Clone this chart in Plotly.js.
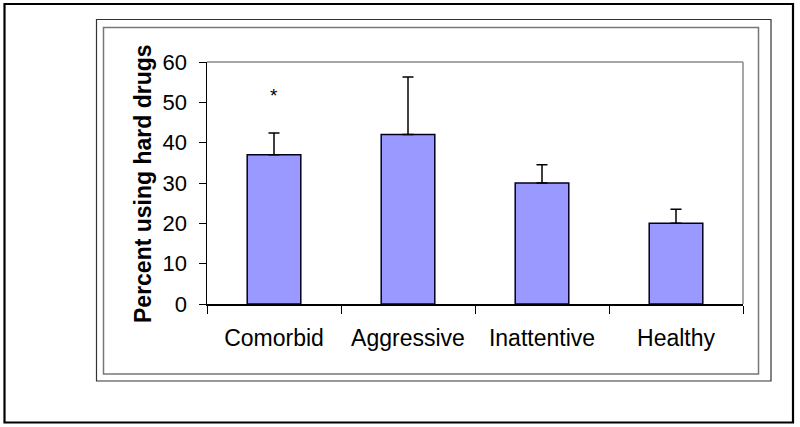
<!DOCTYPE html>
<html>
<head>
<meta charset="utf-8">
<script src="https://cdn.plot.ly/plotly-3.0.1.min.js"></script>
<style>html,body{margin:0;padding:0;background:#fff;}#chart{width:800px;height:427px;}</style>
</head>
<body>
<div id="chart"></div>
<script>
// Data
const categories = ["Comorbid", "Aggressive", "Inattentive", "Healthy"];
const percentHardDrugs = [37, 42, 30, 20];
const errorPlus = [5.4, 14.3, 4.5, 3.5];
const significance = ["*", "", "", ""];
const significanceY = [52.6, null, null, null];

const W = 800, H = 427;
const L = 207, R = 743, T = 62, B = 304;
const px = x => (x - L) / (R - L);
const py = y => (B - y) / (B - T);

const font = "Liberation Sans, Arial, sans-serif";

const trace = {
  type: "bar",
  x: categories,
  y: percentHardDrugs,
  marker: { color: "#9999FF", line: { color: "#000020", width: 1.5 } },
  error_y: {
    type: "data",
    symmetric: false,
    array: errorPlus,
    arrayminus: errorPlus.map(() => 0),
    color: "#000000",
    thickness: 1.5,
    width: 5.5
  },
  hoverinfo: "none"
};

const annotations = [];
categories.forEach((c, i) => {
  if (significance[i]) {
    annotations.push({
      x: c, y: significanceY[i], xref: "x", yref: "y",
      text: significance[i], showarrow: false,
      font: { family: font, size: 19, color: "#000" },
      yshift: -4
    });
  }
});
annotations.push({
  xref: "paper", yref: "paper",
  x: px(140.5), y: py(183.5),
  xshift: -13,
  text: "<b>Percent using hard drugs</b>",
  textangle: -90, showarrow: false,
  font: { family: font, size: 23, color: "#000" }
});

const rect = (x0, y0, x1, y1, color, width) => ({
  type: "rect", xref: "paper", yref: "paper",
  x0: px(x0), x1: px(x1), y0: py(y1), y1: py(y0),
  line: { color: color, width: width }, fillcolor: "rgba(0,0,0,0)", layer: "below"
});

const shapes = [
  rect(4.5, 4, 793, 422.5, "#000000", 2.2),
  rect(96.5, 19.5, 771, 381, "#333333", 1.2),
  rect(103.5, 27.5, 758.5, 374, "#777777", 1.5),
  { type: "line", xref: "paper", yref: "paper", x0: 0, x1: 1, y0: 1, y1: 1, line: { color: "#888888", width: 1.5 } },
  { type: "line", xref: "paper", yref: "paper", x0: 1, x1: 1, y0: 0, y1: 1, line: { color: "#888888", width: 1.5 } }
];

const layout = {
  width: W, height: H,
  margin: { l: L, r: W - R, t: T, b: H - B, pad: 0 },
  paper_bgcolor: "#ffffff",
  plot_bgcolor: "#ffffff",
  showlegend: false,
  bargap: 0.6,
  font: { family: font, color: "#000" },
  xaxis: {
    type: "category",
    showline: true, linecolor: "#000", linewidth: 1.5,
    ticks: "outside", tickson: "boundaries", ticklen: 8, tickwidth: 1, tickcolor: "#000",
    tickfont: { family: font, size: 23, color: "#000" },
    ticklabelstandoff: 13,
    showgrid: false, zeroline: false, fixedrange: true
  },
  yaxis: {
    range: [0, 60], dtick: 10, tick0: 0,
    showline: true, linecolor: "#000", linewidth: 1.5,
    ticks: "outside", ticklen: 7, tickwidth: 1, tickcolor: "#000",
    tickfont: { family: font, size: 22, color: "#000" },
    ticklabelstandoff: 7,
    showgrid: false, zeroline: false, fixedrange: true
  },
  annotations: annotations,
  shapes: shapes
};

Plotly.newPlot("chart", [trace], layout, { staticPlot: true, displayModeBar: false });
</script>
</body>
</html>
